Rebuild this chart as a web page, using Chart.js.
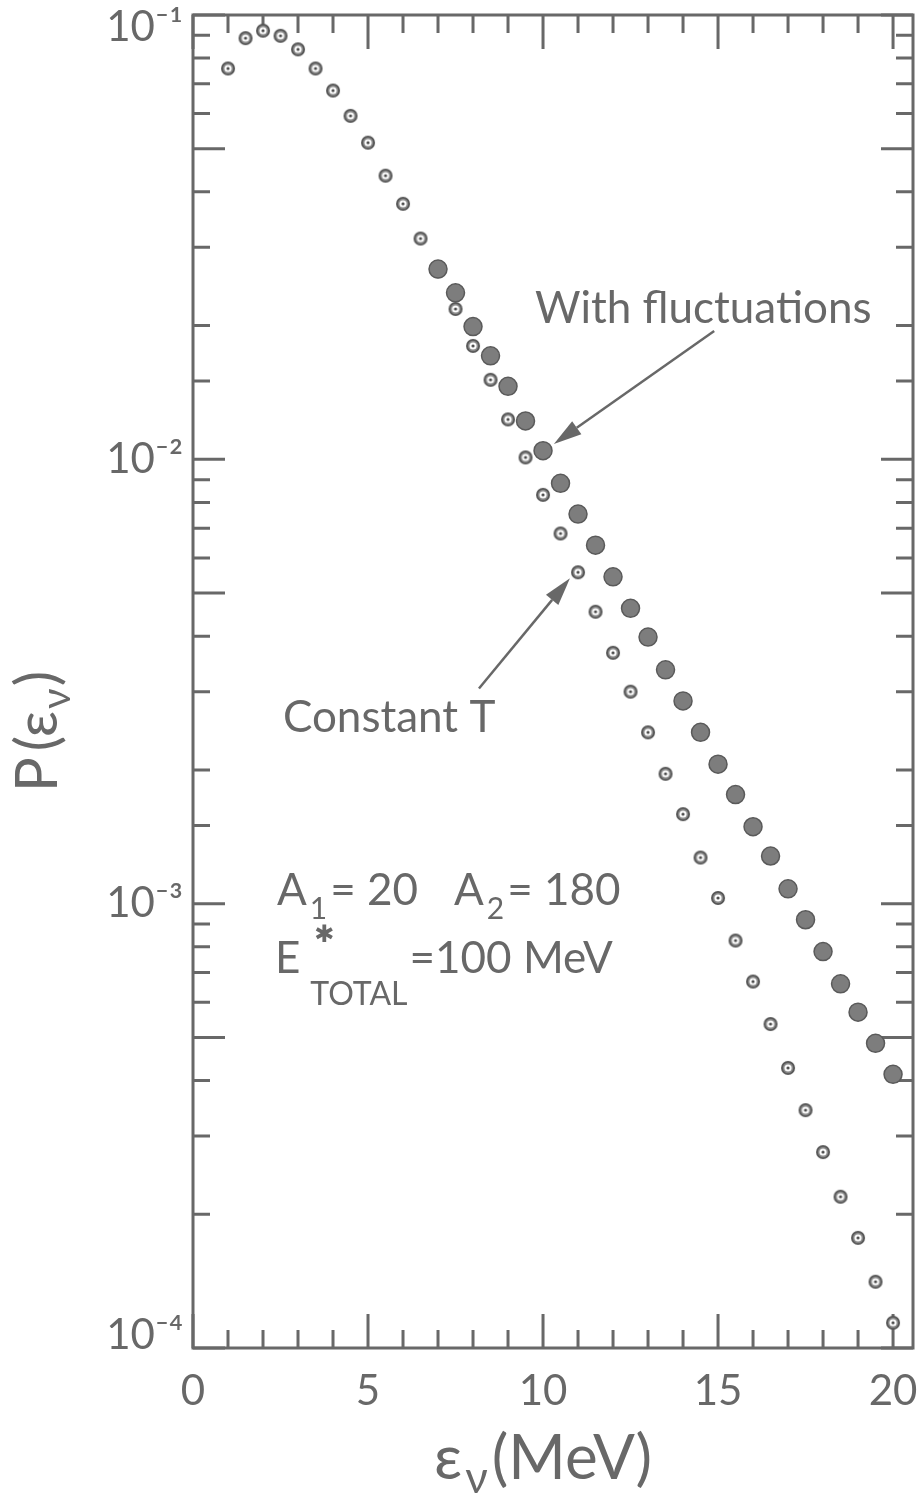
<!DOCTYPE html>
<html>
<head>
<meta charset="utf-8">
<script src="https://cdn.jsdelivr.net/npm/chart.js@4.4.1/dist/chart.umd.min.js"></script>
<style>
  html, body { margin: 0; padding: 0; background: #fff; }
</style>
</head>
<body>
<canvas id="spectrum" width="924" height="1497"></canvas>
<script>
// neutrino energy (MeV) and P(e)
const e_const = [1, 1.5, 2, 2.5, 3, 3.5, 4, 4.5, 5, 5.5, 6, 6.5, 7, 7.5, 8, 8.5, 9, 9.5, 10,
  10.5, 11, 11.5, 12, 12.5, 13, 13.5, 14, 14.5, 15, 15.5, 16, 16.5, 17, 17.5, 18, 18.5, 19, 19.5, 20];
const p_const = [0.0758, 0.0887, 0.0922, 0.0898, 0.0837, 0.0758, 0.0676, 0.0593, 0.0516, 0.0435,
  0.0376, 0.0314, 0.0265, 0.0218, 0.0180, 0.0151, 0.0123, 0.0101, 0.00832, 0.00681, 0.00557,
  0.00454, 0.00367, 0.00300, 0.00243, 0.00196, 0.00159, 0.00127, 0.00103, 0.000826, 0.000668,
  0.000536, 0.000427, 0.000343, 0.000276, 0.000219, 0.000177, 0.000141, 0.000114];

const e_fluct = [7, 7.5, 8, 8.5, 9, 9.5, 10, 10.5, 11, 11.5, 12, 12.5, 13, 13.5, 14, 14.5, 15,
  15.5, 16, 16.5, 17, 17.5, 18, 18.5, 19, 19.5, 20];
const p_fluct = [0.0268, 0.0237, 0.0199, 0.0171, 0.0146, 0.0122, 0.01046, 0.00883, 0.00753,
  0.00641, 0.00544, 0.00462, 0.00398, 0.00336, 0.00286, 0.00243, 0.00206, 0.00176, 0.00149,
  0.00128, 0.00108, 0.00092, 0.00078, 0.00066, 0.00057, 0.000485, 0.000413];

const x_tick_labels = ['0', '5', '10', '15', '20'];
const y_tick_labels = ['10\u207B\u2074', '10\u207B\u00B3', '10\u207B\u00B2', '10\u207B\u00B9'];

const ink = '#686868';
const family = "Lato, 'DejaVu Sans', sans-serif";

function toPoints(xs, ys) {
  return xs.map((v, i) => ({ x: v, y: ys[i] }));
}

// small ringed marker used for the constant T curve
function bullseye() {
  const c = document.createElement('canvas');
  c.width = 16; c.height = 16;
  const g = c.getContext('2d');
  g.fillStyle = '#555';
  g.beginPath(); g.arc(8, 8, 7, 0, 2 * Math.PI); g.fill();
  g.fillStyle = '#8a8a8a';
  g.beginPath(); g.arc(8, 8, 5.2, 0, 2 * Math.PI); g.fill();
  g.fillStyle = '#fff';
  g.beginPath(); g.arc(8, 8, 3.6, 0, 2 * Math.PI); g.fill();
  g.fillStyle = '#4a4a4a';
  g.beginPath(); g.arc(8, 8, 1.6, 0, 2 * Math.PI); g.fill();
  return c;
}

// text and arrows, anchored in data coordinates
const notes = [
  { x: 9.77, y: 0.0203, parts: [{ t: 'With fluctuations' }] },
  { x: 2.57, y: 0.00243, parts: [{ t: 'Constant T' }] },
  { x: 2.4, y: 0.000993, parts: [
    { t: 'A' }, { t: '1', size: 30, dy: 14, dx: 3 }, { t: '= 20', dx: 3 },
    { t: 'A', dx: 36 }, { t: '2', size: 30, dy: 14, dx: 3 }, { t: '= 180', dx: 3 }] },
  { x: 2.34, y: 0.000698, parts: [
    { t: 'E' }, { t: '\u2731', size: 24, dy: -31, dx: 14, hold: true, face: "'DejaVu Sans'" },
    { t: 'TOTAL', size: 32, dy: 32, dx: 10 }, { t: '=100 MeV', dx: 2 }] }
];
const arrows = [
  { from: [14.89, 0.01945], to: [10.31, 0.01083] },
  { from: [8.17, 0.00305], to: [10.77, 0.0054] }
];

function fontOf(p) {
  return (p.size || 44) + 'px ' + (p.face || family);
}

function drawRuns(ctx, x0, y0, parts) {
  let cx = x0;
  parts.forEach(p => {
    ctx.font = fontOf(p);
    const px = cx + (p.dx || 0);
    ctx.fillText(p.t, px, y0 + (p.dy || 0));
    if (!p.hold) cx = px + ctx.measureText(p.t).width;
  });
  return cx - x0;
}

function runsWidth(ctx, parts) {
  let w = 0;
  parts.forEach(p => {
    ctx.font = fontOf(p);
    if (!p.hold) w += ctx.measureText(p.t).width + (p.dx || 0);
  });
  return w;
}

const framePlugin = {
  id: 'frame',
  beforeDatasetsDraw(chart) {
    const { ctx, chartArea: a, scales: { x, y } } = chart;
    ctx.save();
    ctx.strokeStyle = ink;
    ctx.lineWidth = 3;
    ctx.strokeRect(a.left, a.top, a.right - a.left, a.bottom - a.top);
    ctx.beginPath();
    x.ticks.forEach(t => {
      const px = x.getPixelForValue(t.value);
      const len = t.value % 5 === 0 ? 34 : 18;
      ctx.moveTo(px, a.bottom); ctx.lineTo(px, a.bottom - len);
      ctx.moveTo(px, a.top); ctx.lineTo(px, a.top + len);
    });
    y.ticks.forEach(t => {
      const py = y.getPixelForValue(t.value);
      const m = Math.round(t.value / Math.pow(10, Math.floor(Math.log10(t.value) + 1e-9)));
      const len = (m === 1 || m === 5) ? 32 : 17;
      ctx.moveTo(a.left, py); ctx.lineTo(a.left + len, py);
      ctx.moveTo(a.right, py); ctx.lineTo(a.right - len, py);
    });
    ctx.stroke();
    ctx.restore();
  },
  afterDraw(chart) {
    const { ctx, chartArea: a, scales: { x, y } } = chart;
    ctx.save();
    ctx.fillStyle = ink;
    ctx.strokeStyle = ink;
    ctx.textBaseline = 'alphabetic';
    ctx.textAlign = 'left';

    notes.forEach(n => {
      drawRuns(ctx, x.getPixelForValue(n.x), y.getPixelForValue(n.y), n.parts);
    });

    ctx.lineWidth = 2.5;
    arrows.forEach(ar => {
      const x1 = x.getPixelForValue(ar.from[0]), y1 = y.getPixelForValue(ar.from[1]);
      const x2 = x.getPixelForValue(ar.to[0]), y2 = y.getPixelForValue(ar.to[1]);
      const ang = Math.atan2(y2 - y1, x2 - x1);
      const hl = 28, hw = 8;
      const bx = x2 - hl * Math.cos(ang), by = y2 - hl * Math.sin(ang);
      ctx.beginPath();
      ctx.moveTo(x1, y1); ctx.lineTo(bx, by);
      ctx.stroke();
      ctx.beginPath();
      ctx.moveTo(x2, y2);
      ctx.lineTo(bx + hw * Math.sin(ang), by - hw * Math.cos(ang));
      ctx.lineTo(bx - hw * Math.sin(ang), by + hw * Math.cos(ang));
      ctx.closePath();
      ctx.fill();
    });

    // axis titles
    const xt = [{ t: '\u03B5', size: 62 }, { t: '\u03BD', size: 44, dy: 14, dx: 3 }, { t: '(MeV)', size: 62, dx: 4 }];
    const xw = runsWidth(ctx, xt);
    drawRuns(ctx, x.getPixelForValue(10) - xw / 2, 1479, xt);

    const yt = [{ t: 'P', size: 58 }, { t: '(\u03B5', size: 58, dx: 6 }, { t: '\u03BD', size: 40, dy: 13, dx: 2 }, { t: ')', size: 58, dx: 2 }];
    const yw = runsWidth(ctx, yt);
    ctx.translate(57, (a.top + a.bottom) / 2 + 50);
    ctx.rotate(-Math.PI / 2);
    drawRuns(ctx, -yw / 2, 0, yt);
    ctx.restore();
  }
};

new Chart(document.getElementById('spectrum'), {
  type: 'scatter',
  data: {
    datasets: [
      {
        label: 'With fluctuations',
        data: toPoints(e_fluct, p_fluct),
        pointStyle: 'circle',
        pointRadius: 9,
        pointBackgroundColor: '#7d7d7d',
        pointBorderColor: '#5a5a5a',
        pointBorderWidth: 1.5
      },
      {
        label: 'Constant T',
        data: toPoints(e_const, p_const),
        pointStyle: bullseye(),
        pointRadius: 7
      }
    ]
  },
  options: {
    responsive: false,
    devicePixelRatio: 1,
    animation: false,
    layout: { padding: { top: 15, right: 11, left: 0, bottom: 0 } },
    plugins: { legend: { display: false }, tooltip: { enabled: false } },
    scales: {
      x: {
        type: 'linear',
        min: 0,
        max: 20.57,
        grid: { display: false, drawTicks: false },
        border: { display: false },
        ticks: {
          stepSize: 1,
          includeBounds: false,
          autoSkip: false,
          maxRotation: 0,
          padding: 18,
          color: ink,
          font: { family: family, size: 42 },
          callback: v => (v % 5 === 0 ? x_tick_labels[v / 5] : '')
        },
        afterFit: s => { s.height = 149; s.paddingLeft = 0; s.paddingRight = 0; }
      },
      y: {
        type: 'logarithmic',
        min: 1e-4,
        max: 1e-1,
        grid: { display: false, drawTicks: false },
        border: { display: false },
        ticks: {
          autoSkip: false,
          padding: 10,
          color: ink,
          font: { family: family, size: 42, lineHeight: 0.6 },
          callback: v => {
            const e = Math.log10(v);
            if (Math.abs(e - Math.round(e)) > 1e-6) return '';
            const k = Math.round(e) + 4;
            const lab = y_tick_labels[k];
            // end labels nudged inside the frame, as in the original
            if (k === y_tick_labels.length - 1) return ['', lab];
            if (k === 0) return [lab, ''];
            return lab;
          }
        },
        afterFit: s => { s.width = 193; s.paddingTop = 0; s.paddingBottom = 0; }
      }
    }
  },
  plugins: [framePlugin]
});
</script>
</body>
</html>
